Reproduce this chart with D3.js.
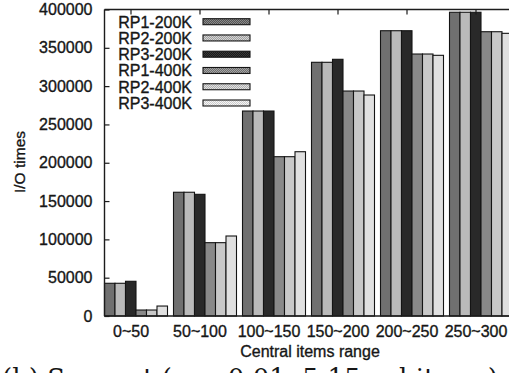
<!DOCTYPE html>
<html>
<head>
<meta charset="utf-8">
<script src="https://cdn.jsdelivr.net/npm/d3@7"></script>
<style>
  html, body { margin: 0; padding: 0; background: #fff; }
  svg { display: block; }
  text { font-family: "Liberation Sans", Arial, sans-serif; fill: #161616; stroke: #161616; stroke-width: 0.35px; }
</style>
</head>
<body>
<svg id="chart" width="509" height="373"></svg>
<script>
// Central-item ranges on the x axis
const categories = ["0~50", "50~100", "100~150", "150~200", "200~250", "250~300"];
// Series names (legend order)
const seriesNames = ["RP1-200K", "RP2-200K", "RP3-200K", "RP1-400K", "RP2-400K", "RP3-400K"];
// I/O times per series, one value per range
const rp1_200K = [42700, 161500, 267500, 331100, 372300, 396400];
const rp2_200K = [42700, 161500, 267500, 331100, 372300, 396400];
const rp3_200K = [45300, 158800, 267500, 335000, 372300, 396400];
const rp1_400K = [7800, 95700, 207900, 293600, 341900, 371000];
const rp2_400K = [7800, 95700, 207900, 293600, 341900, 371000];
const rp3_400K = [13000, 104400, 214400, 288400, 340200, 368900];
const seriesValues = [rp1_200K, rp2_200K, rp3_200K, rp1_400K, rp2_400K, rp3_400K];
// Y tick values
const yTicks = [0, 50000, 100000, 150000, 200000, 250000, 300000, 350000, 400000];

const svg = d3.select("#chart");
const W = 509, H = 373;
const plotLeft = 104.5, plotTop = 9.5, plotBottom = 316;
const groupStep = 69, groupGap = 6;

// Stippled grey fills, like a printed gnuplot pattern set
const fills = [
  { base: "#555555", dot: "#8a8a8a" },
  { base: "#a0a0a0", dot: "#d4d4d4" },
  { base: "#1a1a1a", dot: "#383838" },
  { base: "#6e6e6e", dot: "#a4a4a4" },
  { base: "#b0b0b0", dot: "#e0e0e0" },
  { base: "#f4f4f4", dot: "#cccccc" }
];
const defs = svg.append("defs");
fills.forEach((f, i) => {
  const p = defs.append("pattern")
    .attr("id", "fill" + i)
    .attr("patternUnits", "userSpaceOnUse")
    .attr("width", 2).attr("height", 2);
  p.append("rect").attr("width", 2).attr("height", 2).attr("fill", f.base);
  p.append("rect").attr("x", 0).attr("y", 0).attr("width", 1).attr("height", 1).attr("fill", f.dot);
  p.append("rect").attr("x", 1).attr("y", 1).attr("width", 1).attr("height", 1).attr("fill", f.dot);
});

svg.append("rect").attr("width", W).attr("height", H).attr("fill", "#fff");

const x0 = d3.scaleBand()
  .domain(categories)
  .range([plotLeft, plotLeft + categories.length * groupStep - groupGap])
  .paddingInner(groupGap / groupStep)
  .paddingOuter(0);

const x1 = d3.scaleBand()
  .domain(seriesNames)
  .range([0, x0.bandwidth()]);

const y = d3.scaleLinear().domain([0, 400000]).range([plotBottom, plotTop]);

// Tic marks sit a little left of each cluster centre
const ticShift = -5;

// Bars
const groups = svg.append("g").selectAll("g")
  .data(categories)
  .join("g")
  .attr("transform", d => `translate(${x0(d)},0)`);

groups.selectAll("rect")
  .data((c, ci) => seriesNames.map((s, si) => ({ s, si, v: seriesValues[si][ci] })))
  .join("rect")
  .attr("x", d => x1(d.s))
  .attr("y", d => y(d.v))
  .attr("width", x1.bandwidth())
  .attr("height", d => y(0) - y(d.v))
  .attr("fill", d => `url(#fill${d.si})`)
  .attr("stroke", "#141414")
  .attr("stroke-width", 1.1);

// Y axis (ticks point inward)
const yAxis = svg.append("g")
  .attr("transform", `translate(${plotLeft},0)`)
  .call(d3.axisLeft(y).tickValues(yTicks).tickSize(-5).tickPadding(12).tickFormat(d3.format("d")));
yAxis.select(".domain").remove();
yAxis.selectAll(".tick line").attr("stroke", "#1c1c1c").attr("stroke-width", 1.2);
yAxis.selectAll("text").style("font-size", "16px").attr("fill", "#161616")
  .style("font-family", '"Liberation Sans", Arial, sans-serif');

// X axis labels
const xAxis = svg.append("g")
  .attr("transform", `translate(${ticShift},${plotBottom})`)
  .call(d3.axisBottom(x0).tickSize(0).tickPadding(10));
xAxis.select(".domain").remove();
xAxis.selectAll("text").style("font-size", "16px").attr("fill", "#161616")
  .style("font-family", '"Liberation Sans", Arial, sans-serif');

// Mirrored x tics along the top border
const xTop = svg.append("g")
  .attr("transform", `translate(${ticShift},${plotTop})`)
  .call(d3.axisTop(x0).tickSize(-5).tickFormat(""));
xTop.select(".domain").remove();
xTop.selectAll(".tick line").attr("stroke", "#1c1c1c").attr("stroke-width", 1.2);

// Frame
const frame = svg.append("g").attr("fill", "none").attr("stroke", "#1c1c1c").attr("stroke-width", 1.4);
frame.append("line").attr("x1", plotLeft).attr("x2", plotLeft).attr("y1", plotTop).attr("y2", plotBottom);
frame.append("line").attr("x1", plotLeft).attr("x2", W + 10).attr("y1", plotTop).attr("y2", plotTop);
frame.append("line").attr("x1", plotLeft).attr("x2", W + 10).attr("y1", plotBottom).attr("y2", plotBottom);

// Legend
const legend = svg.append("g");
const legRow = d3.scalePoint().domain(seriesNames).range([21.7, 103]);
seriesNames.forEach((s, i) => {
  const cy = legRow(s);
  legend.append("text")
    .attr("x", 192).attr("y", cy + 6)
    .attr("text-anchor", "end")
    .style("font-size", "16px")
    .text(s);
  legend.append("rect")
    .attr("x", 203).attr("y", cy - 3)
    .attr("width", 47).attr("height", 6)
    .attr("fill", `url(#fill${i})`)
    .attr("stroke", "#141414").attr("stroke-width", 1.1);
});

// Axis titles
svg.append("text")
  .attr("transform", `translate(25,162) rotate(-90)`)
  .attr("text-anchor", "middle")
  .style("font-size", "15.5px")
  .text("I/O times");

svg.append("text")
  .attr("x", 310).attr("y", 357)
  .attr("text-anchor", "middle")
  .style("font-size", "16px")
  .text("Central items range");

// Figure caption (runs off the bottom edge)
svg.append("text")
  .attr("x", 2).attr("y", 387)
  .style("font-family", '"DejaVu Serif", "Liberation Serif", serif')
  .style("font-size", "26px")
  .style("stroke-width", "0")
  .text("(b) Support (α = 0.01, 5-15 subitems)");
</script>
</body>
</html>
